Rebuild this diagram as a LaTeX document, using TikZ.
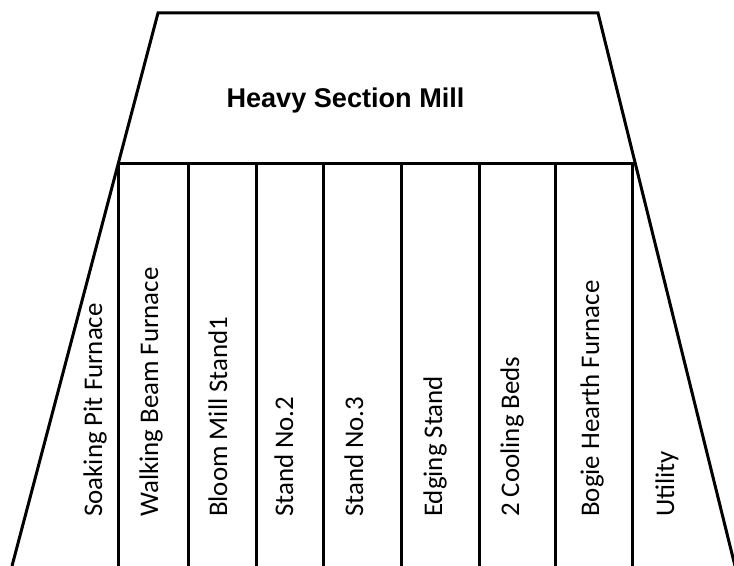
\documentclass[tikz,border=0pt]{standalone}
\usepackage{fontspec}
\setmainfont{Carlito}
\newfontfamily\titlefont{Liberation Sans}
\usetikzlibrary{calc}

\begin{document}
\begin{tikzpicture}[x=1bp,y=-1bp,
	wall/.style={line width=3bp, black, line join=miter},
	title/.style={anchor=base, inner sep=0pt, font=\titlefont\bfseries\fontsize{27.2}{30}\selectfont},
	unit/.style={rotate=90, anchor=base west, inner sep=0pt, font=\fontsize{27}{30}\selectfont}]
	%\draw[help lines] (0,0) grid[step=50] (734,566);
	\useasboundingbox (0,0) rectangle (734,566);

	% outline of the mill
	\coordinate (tl) at (158,13);
	\coordinate (tr) at (598,13);
	\coordinate (bl) at (12,566);
	\coordinate (br) at (735,566);
	\coordinate (ml) at ($(tl)!0.273!(bl)$);
	\coordinate (mr) at ($(tr)!0.273!(br)$);
	\draw[wall] (bl) -- (tl) -- (tr) -- (br);
	\draw[wall] (ml) -- (mr);

	% columns
	\foreach \x in {118,188,256,323,401,479,555,632}
		\draw[wall] (\x,164) -- (\x,567);

	\node[title] (mill) at (345.5,108) {Heavy Section Mill};

	\foreach \x/\name/\txt in {102/soak/Soaking Pit Furnace, 158/beam/Walking Beam Furnace,
		227/bloom/Bloom Mill Stand1, 293/stand2/Stand No.2, 363/stand3/Stand No.3,
		442/edging/Edging Stand, 519/cooling/2 Cooling Beds,
		599/bogie/Bogie Hearth Furnace, 674/utility/Utility}
		\node[unit] (\name) at (\x,517) {\txt};
\end{tikzpicture}
\end{document}
